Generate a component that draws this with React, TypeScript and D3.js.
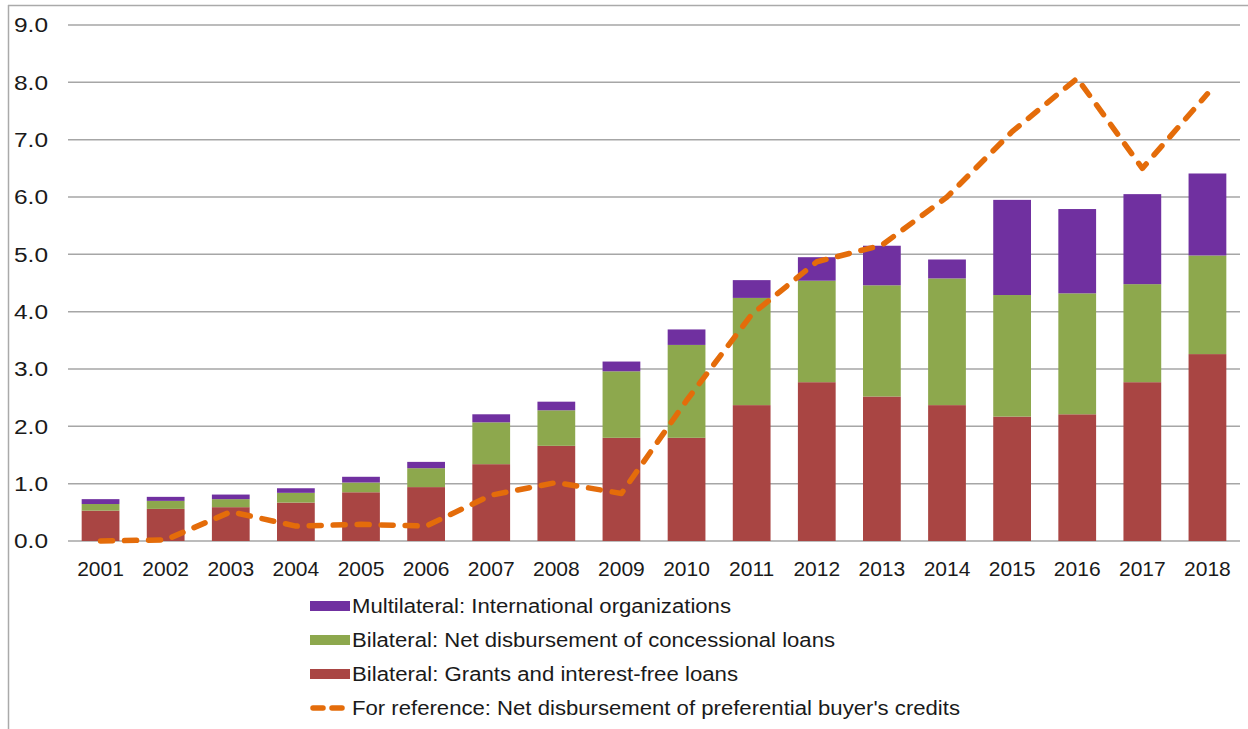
import React from 'react';
import * as d3 from 'd3';

const years = ['2001', '2002', '2003', '2004', '2005', '2006', '2007', '2008', '2009', '2010', '2011', '2012', '2013', '2014', '2015', '2016', '2017', '2018'];
const grants = [0.53, 0.56, 0.59, 0.67, 0.85, 0.94, 1.34, 1.66, 1.8, 1.8, 2.37, 2.77, 2.52, 2.37, 2.17, 2.21, 2.77, 3.26];
const concessional = [0.115, 0.14, 0.14, 0.17, 0.17, 0.33, 0.73, 0.62, 1.16, 1.62, 1.87, 1.77, 1.94, 2.21, 2.12, 2.11, 1.71, 1.72];
const multilateral = [0.085, 0.07, 0.08, 0.08, 0.1, 0.11, 0.14, 0.15, 0.17, 0.27, 0.31, 0.41, 0.69, 0.33, 1.66, 1.47, 1.57, 1.43];
const buyerCredits = [0.0, 0.02, 0.51, 0.26, 0.29, 0.26, 0.8, 1.02, 0.83, 2.45, 3.95, 4.87, 5.16, 6.0, 7.14, 8.07, 6.5, 7.8];
const yTicks = [0, 1, 2, 3, 4, 5, 6, 7, 8, 9];

const COLORS = {
  multilateral: '#7030A0',
  concessional: '#8DA84D',
  grants: '#A94543',
  line: '#E46C0A',
};

// label widths as printed in the source figure (its text is a bit stretched)
const legendItems = [
  { key: 'multilateral', label: 'Multilateral: International organizations', w: 379 },
  { key: 'concessional', label: 'Bilateral: Net disbursement of concessional loans', w: 483 },
  { key: 'grants', label: 'Bilateral: Grants and interest-free loans', w: 386 },
  { key: 'line', label: "For reference: Net disbursement of preferential buyer's credits", w: 608 },
];

const FONT = '"Liberation Sans", Arial, sans-serif';

export default function App() {
  const width = 1248;
  const height = 729;
  const plot = { left: 68, right: 1240, top: 25, bottom: 541 };

  const x = d3
    .scaleBand()
    .domain(years)
    .range([plot.left, plot.right])
    .paddingInner(0.42)
    .paddingOuter(0.21);

  const y = d3.scaleLinear().domain([0, 9]).range([plot.bottom, plot.top]);

  const rows = years.map((year, i) => ({
    year,
    grants: grants[i],
    concessional: concessional[i],
    multilateral: multilateral[i],
  }));

  const stack = d3.stack<any>().keys(['grants', 'concessional', 'multilateral'])(rows);

  const line = d3
    .line<number>()
    .x((_, i) => (x(years[i]) || 0) + x.bandwidth() / 2)
    .y((d) => y(d));

  return (
    <svg width={width} height={height} style={{ position: 'absolute', left: 0, top: 0 }}>
      <rect x={0} y={0} width={width} height={height} fill="#fff" />
      {/* frame of the clipped figure */}
      <line x1={8} x2={width} y1={5.5} y2={5.5} stroke="#aaa" strokeWidth={1.5} />
      <line x1={8.5} x2={8.5} y1={5} y2={height} stroke="#aaa" strokeWidth={1.5} />

      {yTicks.map((t) => (
        <g key={t}>
          <line x1={plot.left} x2={plot.right} y1={y(t)} y2={y(t)} stroke="#a6a6a6" strokeWidth={1.5} />
          <text
            x={48}
            y={y(t)}
            dy="0.35em"
            textAnchor="end"
            fontFamily={FONT}
            fontSize={20.5}
            fill="#1a1a1a"
            textLength={34}
            lengthAdjust="spacingAndGlyphs"
          >
            {t.toFixed(1)}
          </text>
        </g>
      ))}

      {stack.map((layer) => (
        <g key={layer.key} fill={(COLORS as any)[layer.key]}>
          {layer.map((d, i) => (
            <rect
              key={years[i]}
              x={x(years[i])}
              y={y(d[1])}
              width={x.bandwidth()}
              height={y(d[0]) - y(d[1])}
            />
          ))}
        </g>
      ))}

      <path
        d={line(buyerCredits) || ''}
        fill="none"
        stroke={COLORS.line}
        strokeWidth={5.5}
        strokeDasharray="12 12"
        strokeLinecap="round"
        strokeLinejoin="round"
      />

      {years.map((yr) => (
        <text
          key={yr}
          x={(x(yr) || 0) + x.bandwidth() / 2}
          y={576}
          textAnchor="middle"
          fontFamily={FONT}
          fontSize={21}
          fill="#1a1a1a"
        >
          {yr}
        </text>
      ))}

      {legendItems.map((item, i) => {
        const cy = 606 + i * 34;
        return (
          <g key={item.key}>
            {item.key === 'line' ? (
              <line
                x1={313}
                x2={350}
                y1={cy}
                y2={cy}
                stroke={COLORS.line}
                strokeWidth={5.5}
                strokeDasharray="10 9"
                strokeLinecap="round"
              />
            ) : (
              <rect x={310} y={cy - 5} width={40} height={10} fill={(COLORS as any)[item.key]} />
            )}
            <text
              x={352}
              y={cy}
              dy="0.35em"
              fontFamily={FONT}
              fontSize={20}
              fill="#1a1a1a"
              textLength={item.w}
              lengthAdjust="spacingAndGlyphs"
            >
              {item.label}
            </text>
          </g>
        );
      })}
    </svg>
  );
}
